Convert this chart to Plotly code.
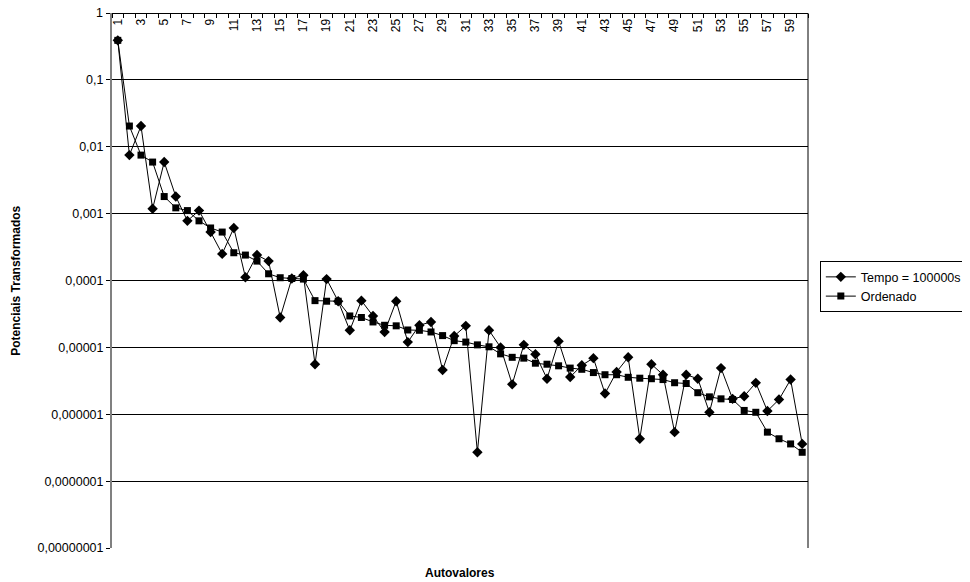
import plotly.graph_objects as go

autovalores = list(range(1, 61))

tempo_100000s = [
    0.39, 0.0075, 0.0204, 0.00118, 0.0059, 0.0018, 0.00078, 0.00111, 0.00053, 0.00025,
    0.00061, 0.000112, 0.00024, 0.000195, 2.8e-5, 1.07e-4, 1.2e-4, 5.6e-6, 1.05e-4, 4.9e-5,
    1.8e-5, 5.0e-5, 2.95e-5, 1.7e-5, 4.9e-5, 1.2e-5, 2.14e-5, 2.4e-5, 4.6e-6, 1.48e-5,
    2.1e-5, 2.7e-7, 1.8e-5, 1.0e-5, 2.8e-6, 1.09e-5, 7.9e-6, 3.4e-6, 1.23e-5, 3.6e-6,
    5.4e-6, 6.9e-6, 2.04e-6, 4.3e-6, 7.1e-6, 4.3e-7, 5.6e-6, 3.9e-6, 5.4e-7, 3.9e-6,
    3.4e-6, 1.07e-6, 4.9e-6, 1.7e-6, 1.86e-6, 2.95e-6, 1.12e-6, 1.66e-6, 3.3e-6, 3.6e-7,
]

ordenado = [
    0.39, 0.0204, 0.0075, 0.0059, 0.0018, 0.00122, 0.00111, 0.00078, 0.00061, 0.00053,
    0.00026, 0.00024, 0.000195, 0.000126, 0.00011, 0.000107, 0.000105, 5.0e-5, 4.9e-5, 4.9e-5,
    2.95e-5, 2.8e-5, 2.4e-5, 2.14e-5, 2.1e-5, 1.82e-5, 1.8e-5, 1.7e-5, 1.5e-5, 1.26e-5,
    1.2e-5, 1.09e-5, 1.02e-5, 8.0e-6, 7.1e-6, 6.9e-6, 5.8e-6, 5.6e-6, 5.3e-6, 4.9e-6,
    4.7e-6, 4.2e-6, 3.9e-6, 3.9e-6, 3.57e-6, 3.46e-6, 3.4e-6, 3.3e-6, 2.96e-6, 2.88e-6,
    2.1e-6, 1.82e-6, 1.7e-6, 1.66e-6, 1.14e-6, 1.07e-6, 5.4e-7, 4.3e-7, 3.6e-7, 2.7e-7,
]

y_tickvals = [1, 0.1, 0.01, 0.001, 0.0001, 0.00001, 0.000001, 0.0000001, 0.00000001]
y_ticktext = ["1", "0,1", "0,01", "0,001", "0,0001", "0,00001", "0,000001",
              "0,0000001", "0,00000001"]
x_tickvals = list(range(1, 61, 2))
x_ticktext = [str(v) for v in x_tickvals]

FONT = "Liberation Sans, Arial, sans-serif"

fig = go.Figure()
fig.add_trace(go.Scatter(
    x=autovalores, y=tempo_100000s, name="Tempo = 100000s", mode="lines+markers",
    line=dict(color="black", width=1),
    marker=dict(symbol="diamond", size=8, color="black"),
))
fig.add_trace(go.Scatter(
    x=autovalores, y=ordenado, name="Ordenado", mode="lines+markers",
    line=dict(color="black", width=1),
    marker=dict(symbol="square", size=7, color="black"),
))

# page body has an 8px margin, so the figure is sized/offset to compensate
fig.update_layout(
    width=962, height=574,
    margin=dict(l=104, r=162, t=5, b=34, autoexpand=False),
    paper_bgcolor="white", plot_bgcolor="white",
    font=dict(family=FONT, size=12, color="black"),
    showlegend=True,
    legend=dict(
        x=1.017, y=0.536, xanchor="left", yanchor="top",
        bordercolor="black", borderwidth=1, bgcolor="white",
        font=dict(size=12.5, family=FONT), tracegroupgap=0,
        itemwidth=30,
    ),
    xaxis=dict(
        anchor="free", position=1, side="bottom", range=[0.5, 60.5],
        automargin=False,
        tickmode="array", tickvals=x_tickvals, ticktext=x_ticktext,
        tickangle=-90, ticks="",
        tickfont=dict(size=12, family=FONT),
        showgrid=False, zeroline=False,
        showline=True, linecolor="black", linewidth=1,
        minor=dict(tickmode="array", tickvals=[v + 0.5 for v in range(0, 61)],
                   ticks="outside", ticklen=4, tickcolor="black", tickwidth=1,
                   showgrid=False),
    ),
    yaxis=dict(
        type="log", range=[-8, 0], automargin=False,
        tickmode="array", tickvals=y_tickvals, ticktext=y_ticktext,
        ticks="outside", ticklen=4, tickcolor="black",
        tickfont=dict(size=12.5, family=FONT),
        showgrid=True, gridcolor="black", gridwidth=1,
        showline=True, linecolor="#808080", linewidth=2, mirror=False,
        zeroline=False,
    ),
    annotations=[
        # top tick label "1" (the axis hides it since it touches the page edge)
        dict(text=y_ticktext[0], xref="paper", yref="paper", x=0, y=1,
             xanchor="right", yanchor="middle", xshift=-7, showarrow=False,
             font=dict(size=12.5, family=FONT)),
        dict(text="<b>Potenciais Transformados</b>", textangle=-90,
             xref="paper", yref="paper", x=-0.139, y=0.5,
             xanchor="center", yanchor="middle", showarrow=False,
             font=dict(size=12, family=FONT)),
        dict(text="<b>Autovalores</b>",
             xref="paper", yref="paper", x=0.5, y=-0.047,
             xanchor="center", yanchor="middle", showarrow=False,
             font=dict(size=12, family=FONT)),
    ],
)
# right border of the plot area
fig.add_shape(type="line", xref="paper", yref="paper", x0=1, x1=1, y0=0, y1=1,
              line=dict(color="black", width=1))

fig.write_html("out.html")
